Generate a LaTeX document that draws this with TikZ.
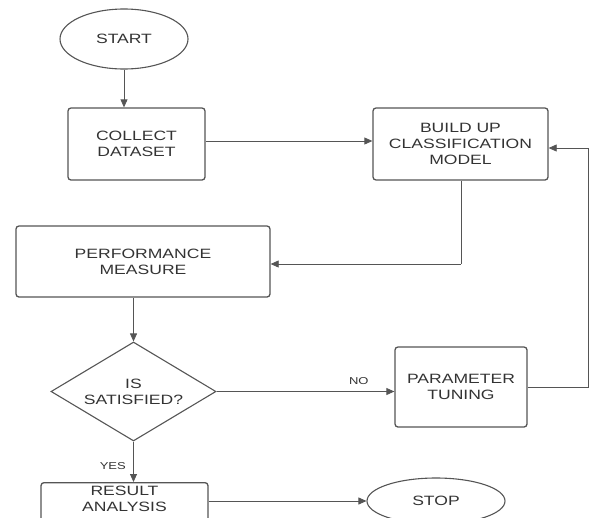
\documentclass[tikz,border=0pt]{standalone}
\usepackage{fontspec}
\setmainfont{Liberation Sans}[FakeStretch=1.3]
\usetikzlibrary{shapes.geometric,arrows.meta}
\definecolor{ln}{HTML}{555555}
\definecolor{tx}{HTML}{333333}
\tikzset{
  every node/.style={font=\fontsize{13.5}{15.8}\selectfont, text=tx, align=center},
  procbox/.style={draw=ln, line width=1.3pt, rounded corners=3pt, inner sep=0pt},
  term/.style={draw=ln, line width=1.1pt, ellipse, inner sep=0pt},
  decide/.style={draw=ln, line width=1.1pt, diamond, inner sep=0pt, shape aspect=1.67},
  conn/.style={draw=ln, line width=0.8pt},
  arr/.style={conn, -{Triangle[length=8pt,width=7pt]}},
  lbl/.style={font=\fontsize{10}{12}\selectfont}
}
\begin{document}
\begin{tikzpicture}[x=1pt,y=-1pt]
\useasboundingbox (0,0) rectangle (589,517);
\clip (0,0) rectangle (589,517);
\node[term, minimum width=128, minimum height=60] (start) at (124,39) {START};
\node[procbox, minimum width=137, minimum height=72] (collect) at (136.5,144) {COLLECT\\DATASET};
\node[procbox, minimum width=175, minimum height=72] (build) at (460.5,144) {BUILD UP\\CLASSIFICATION\\MODEL};
\node[procbox, minimum width=254, minimum height=71] (perf) at (143,261.5) {PERFORMANCE\\MEASURE};
\node[decide, minimum width=165, minimum height=99, label={[align=center]center:IS\\SATISFIED?}] (dec) at (133.5,391.5) {};
\node[procbox, minimum width=132, minimum height=80] (param) at (461,387) {PARAMETER\\TUNING};
\node[procbox, minimum width=167, minimum height=60, anchor=north] (result) at (124.5,482) {};
\node at (124.5,499) {RESULT\\ANALYSIS};
\node[term, minimum width=138, minimum height=46] (stop) at (436,501) {STOP};
\coordinate (b1) at (461,264);
\coordinate (p1) at (588,387);
\coordinate (p2) at (588,148);
\draw[arr] (start.south) -- (collect.north -| start.south);
\draw[arr] (collect.east |- 0,141) -- (build.west |- 0,141);
\draw[conn] (build.south -| b1) -- (b1);
\draw[arr] (b1) -- (perf.east |- b1);
\draw[arr] (perf.south -| dec.north) -- (dec.north);
\draw[arr] (dec.east) -- (param.west |- dec.east) node[lbl, pos=0.8, above=3pt] {NO};
\draw[conn] (param.east) -- (p1) -- (p2);
\draw[arr] (p2) -- (build.east |- p2);
\draw[arr] (dec.south) -- (dec.south |- result.north) node[lbl, pos=0.6, left=4pt] {YES};
\draw[arr] (result.east |- 0,501) -- (stop.west);
\end{tikzpicture}
\end{document}
